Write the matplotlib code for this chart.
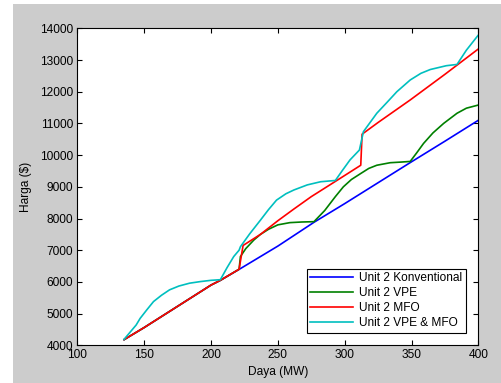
import matplotlib.pyplot as plt
from matplotlib.patches import Rectangle

plt.rcParams['font.family'] = ['Liberation Sans', 'DejaVu Sans']

# Unit 2 Konventional
konv_x = [135, 150, 175, 200, 207, 222, 250, 277, 300, 325, 350, 375, 400]
konv_y = [4180, 4560, 5230, 5900, 6050, 6420, 7130, 7880, 8470, 9130, 9790, 10440, 11100]

# Unit 2 VPE
vpe_x = [135, 150, 175, 200, 207, 221, 222, 226, 232, 237, 243, 250, 259, 268, 277,
         285, 293, 299, 305, 312, 318, 324, 334, 342, 349, 354, 359, 366, 374, 384, 391, 400]
vpe_y = [4180, 4560, 5230, 5900, 6050, 6400, 6800, 7050, 7320, 7500, 7660, 7800, 7870, 7890, 7900,
         8250, 8690, 9000, 9230, 9420, 9580, 9680, 9760, 9780, 9800, 10080, 10370, 10700, 11000, 11320, 11480, 11580]

# Unit 2 MFO
mfo_x = [135, 150, 175, 200, 207, 221, 224, 237, 250, 262, 275, 293, 312, 313, 325, 349, 375, 400]
mfo_y = [4180, 4560, 5230, 5900, 6050, 6400, 7150, 7500, 7930, 8300, 8690, 9170, 9680, 10660, 11030, 11740, 12550, 13350]

# Unit 2 VPE & MFO
vm_x = [135, 140, 144, 147, 152, 157, 163, 169, 176, 184, 192, 200, 207, 212, 217, 221, 222,
        229, 237, 243, 249, 256, 262, 272, 282, 293, 298, 304, 311, 314, 319, 324, 332, 339,
        349, 357, 364, 376, 384, 391, 400]
vm_y = [4190, 4440, 4640, 4850, 5120, 5380, 5580, 5750, 5870, 5960, 6010, 6050, 6070, 6450, 6800, 7000, 7110,
        7520, 7950, 8280, 8580, 8780, 8900, 9060, 9160, 9200, 9500, 9850, 10160, 10740, 11030, 11320, 11680, 12000,
        12370, 12580, 12700, 12820, 12860, 13310, 13790]

fig = plt.figure(figsize=(5.02, 3.83), dpi=100, facecolor='white')
fig.patches.append(Rectangle((13 / 502, 0), 1, 1 - 4 / 383, transform=fig.transFigure,
                             facecolor='#cccccc', edgecolor='none', zorder=-10))
ax = fig.add_axes([0.154, 0.0984, 0.799, 0.8277])

lw = 1.2
ax.plot(konv_x, konv_y, color='#0000ff', lw=lw, label='Unit 2 Konventional')
ax.plot(vpe_x, vpe_y, color='#008000', lw=lw, label='Unit 2 VPE')
ax.plot(mfo_x, mfo_y, color='#ff0000', lw=lw, label='Unit 2 MFO')
ax.plot(vm_x, vm_y, color='#00bfbf', lw=lw, label='Unit 2 VPE & MFO')

ax.set_xlim(100, 400)
ax.set_ylim(4000, 14000)
ax.set_xticks(range(100, 401, 50))
ax.set_yticks(range(4000, 14001, 1000))
ax.tick_params(direction='in', top=True, right=True, length=3.5, labelsize=8.6, pad=3)
ax.set_xlabel('Daya (MW)', fontsize=8.6, labelpad=3)
ax.set_ylabel('Harga ($)', fontsize=8.6, labelpad=6)
for s in ax.spines.values():
    s.set_linewidth(0.8)

leg = ax.legend(loc='lower right', bbox_to_anchor=(0.969, 0.039), fontsize=8.6,
                fancybox=False, framealpha=1, edgecolor='black', handlelength=3.6,
                borderpad=0.3, labelspacing=0.25, handletextpad=0.5, borderaxespad=0)
leg.get_frame().set_linewidth(0.8)

plt.savefig('out.png', dpi=100, facecolor=fig.get_facecolor())
